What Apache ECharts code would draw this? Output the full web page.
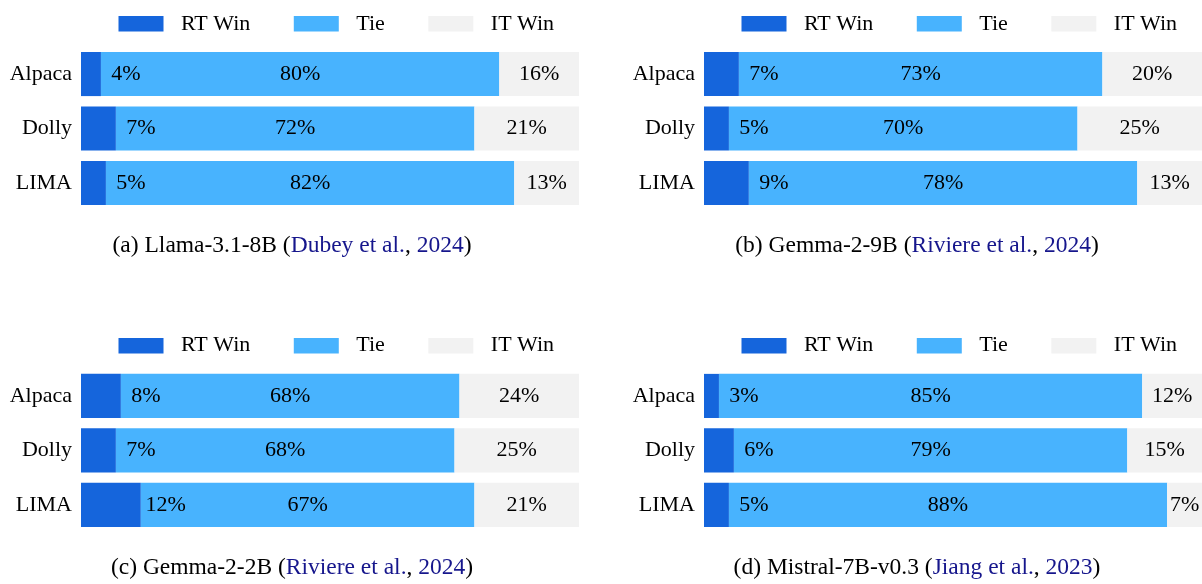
<!DOCTYPE html>
<html>
<head>
<meta charset="utf-8">
<script src="https://cdn.jsdelivr.net/npm/echarts@6/dist/echarts.min.js"></script>
<style>
html,body{margin:0;padding:0;background:#fff;}
#chart{width:1202px;height:584px;}
</style>
</head>
<body>
<div id="chart"></div>
<script>
const categories = ['Alpaca', 'Dolly', 'LIMA'];
const seriesNames = ['RT Win', 'Tie', 'IT Win'];

const llamaRT = [4, 7, 5];
const llamaTie = [80, 72, 82];
const llamaIT = [16, 21, 13];

const gemma9RT = [7, 5, 9];
const gemma9Tie = [73, 70, 78];
const gemma9IT = [20, 25, 13];

const gemma2RT = [8, 7, 12];
const gemma2Tie = [68, 68, 67];
const gemma2IT = [24, 25, 21];

const mistralRT = [3, 6, 5];
const mistralTie = [85, 79, 88];
const mistralIT = [12, 15, 7];

const captions = [
  ['(a) Llama-3.1-8B (', 'Dubey et al.', ', ', '2024', ')'],
  ['(b) Gemma-2-9B (', 'Riviere et al.', ', ', '2024', ')'],
  ['(c) Gemma-2-2B (', 'Riviere et al.', ', ', '2024', ')'],
  ['(d) Mistral-7B-v0.3 (', 'Jiang et al.', ', ', '2023', ')']
];

const panels = [
  [llamaRT, llamaTie, llamaIT],
  [gemma9RT, gemma9Tie, gemma9IT],
  [gemma2RT, gemma2Tie, gemma2IT],
  [mistralRT, mistralTie, mistralIT]
];

const FONT = 'Liberation Serif';
const colors = ['#1565DC', '#48B3FE', '#F2F2F2'];

const layout = [
  {left: 81, top: 46.8, cap: 292, capTop: 234},
  {left: 704, top: 46.8, cap: 917, capTop: 234},
  {left: 81, top: 368.7, cap: 292, capTop: 556},
  {left: 704, top: 368.7, cap: 917, capTop: 556}
];
const GW = 498, GH = 163.4;

const grid = [], xAxis = [], yAxis = [], series = [], legend = [], title = [];

layout.forEach((p, i) => {
  grid.push({left: p.left, top: p.top, width: GW, height: GH, containLabel: false});
  xAxis.push({gridIndex: i, type: 'value', min: 0, max: 100, show: false});
  yAxis.push({
    gridIndex: i, type: 'category', data: categories, inverse: true,
    axisLine: {show: false}, axisTick: {show: false}, splitLine: {show: false},
    axisLabel: {fontFamily: FONT, fontSize: 22, color: '#000', margin: 9}
  });
  legend.push({
    left: p.left + 32.5, top: p.top - 39,
    itemWidth: 45, itemHeight: 15.5, itemGap: 43.5,
    icon: 'rect',
    data: seriesNames,
    selectedMode: false,
    textStyle: {fontFamily: FONT, fontSize: 22, color: '#000', padding: [0, 0, 0, 12.5]}
  });
  const c = captions[i];
  title.push({
    text: '{k|' + c[0] + '}{b|' + c[1] + '}{k|' + c[2] + '}{b|' + c[3] + '}{k|' + c[4] + '}',
    left: p.cap, top: p.capTop, textAlign: 'center', padding: 0,
    textStyle: {
      rich: {
        k: {fontFamily: FONT, fontSize: 23.5, color: '#000', fontWeight: 'normal'},
        b: {fontFamily: FONT, fontSize: 23.5, color: '#16168C', fontWeight: 'normal'}
      }
    }
  });
  panels[i].forEach((vals, s) => {
    const lab = {show: true, formatter: '{c}%', fontFamily: FONT, fontSize: 22, color: '#000'};
    if (s === 0) {
      Object.assign(lab, {position: 'right', distance: 25, align: 'center'});
    } else {
      lab.position = 'inside';
    }
    series.push({
      name: seriesNames[s], type: 'bar', stack: 'p' + i,
      xAxisIndex: i, yAxisIndex: i,
      data: vals,
      barCategoryGap: '19%',
      z: s === 0 ? 4 : 2,
      itemStyle: {color: colors[s]},
      label: lab,
      emphasis: {disabled: true},
      animation: false
    });
  });
});

const chart = echarts.init(document.getElementById('chart'), null, {renderer: 'canvas'});
chart.setOption({
  animation: false,
  backgroundColor: '#fff',
  color: colors,
  title, grid, xAxis, yAxis, legend, series
});
</script>
</body>
</html>
